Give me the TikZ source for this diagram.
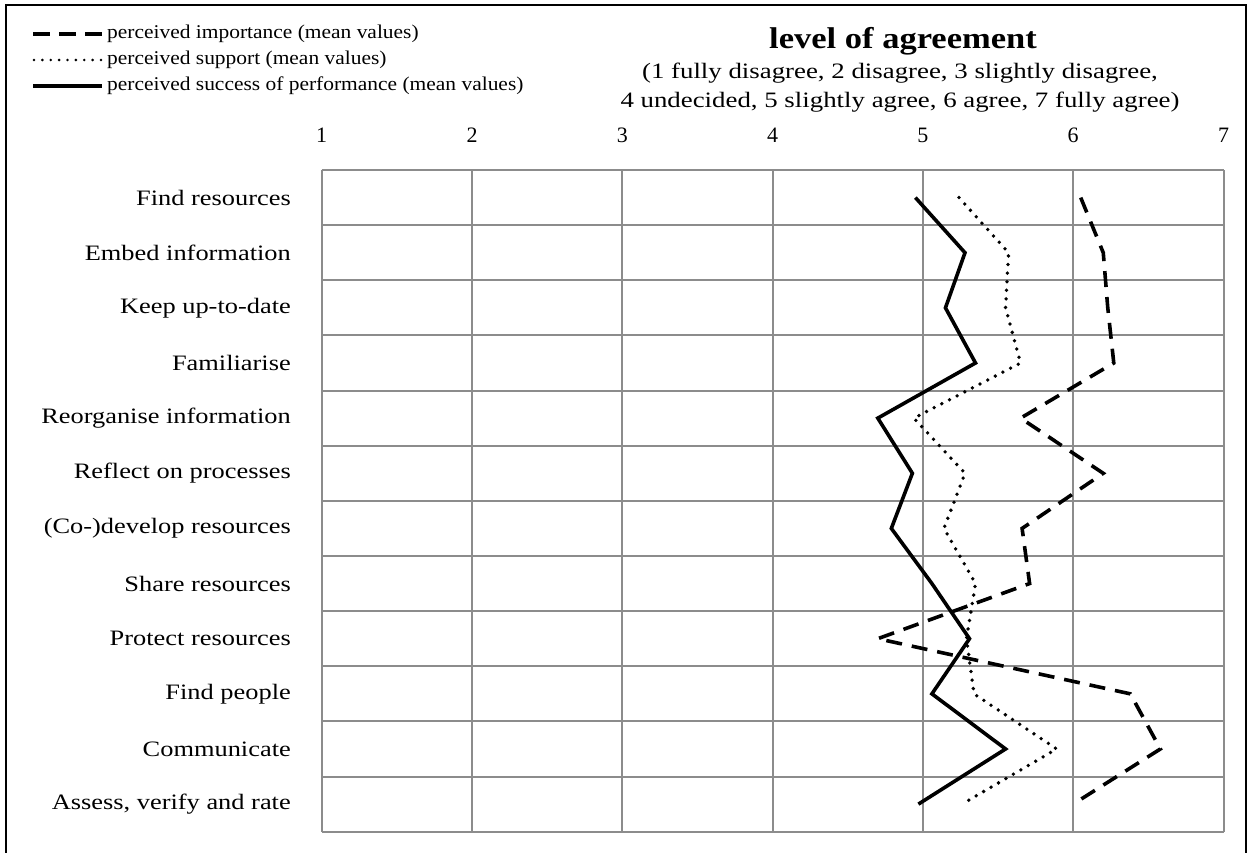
\documentclass[tikz,border=0pt]{standalone}
\usepackage{fontspec}
\setmainfont{Liberation Serif}
\newfontfamily\legendfnt{Liberation Serif}[FakeStretch=1.1]
\newfontfamily\headfnt{Liberation Serif}[FakeStretch=1.15]
\newfontfamily\scalefnt{Liberation Serif}[FakeStretch=1.22]
\newfontfamily\rowfnt{Liberation Serif}[FakeStretch=1.2]
\definecolor{gridgray}{HTML}{8C8C8C}

\begin{document}
\begin{tikzpicture}[x=1pt,y=-1pt,
  frame/.style={line width=2.6pt, line cap=rect},
  grid line/.style={draw=gridgray, line width=2pt},
  importance/.style={line width=3.6pt, dash pattern=on 16pt off 10pt},
  support/.style={line width=3.8pt, dash pattern=on 0pt off 8.6pt, line cap=round},
  success/.style={line width=3.6pt},
  legend text/.style={anchor=west, inner sep=0pt, font=\legendfnt\fontsize{19.5}{22}\selectfont},
  head text/.style={inner sep=0pt, font=\headfnt\bfseries\fontsize{30}{34}\selectfont},
  scale text/.style={inner sep=0pt, align=center, font=\scalefnt\fontsize{22}{29}\selectfont},
  tick text/.style={inner sep=0pt, font=\fontsize{22}{24}\selectfont},
  row text/.style={anchor=east, inner sep=0pt, font=\rowfnt\fontsize{22}{24}\selectfont}]

\useasboundingbox (0,0) rectangle (1251,852);
\fill[white] (0,0) rectangle (1251,852);

% outer frame, open at the bottom
\draw[frame] (6,852) -- (6,5) -- (1246,5) -- (1246,852);

% legend
\coordinate (impA) at (33,34);  \coordinate (impB) at (102,34);
\coordinate (supA) at (34,60);  \coordinate (supB) at (101,60);
\coordinate (sucA) at (33,86);  \coordinate (sucB) at (102,86);
\draw[line width=3.6pt, dash pattern=on 17pt off 9pt] (impA) -- (impB);
\draw[line width=2.8pt, dash pattern=on 0pt off 8.375pt, line cap=round] (supA) -- (supB);
\draw[line width=3.6pt] (sucA) -- (sucB);
\node[legend text] (legImp) at (107,34) {perceived importance (mean values)};
\node[legend text] (legSup) at (107,60) {perceived support (mean values)};
\node[legend text] (legSuc) at (107,86) {perceived success of performance (mean values)};

% heading and scale description
\node[head text] (head) at (903,41) {level of agreement};
\node[scale text] (scaledesc) at (900,88) {(1 fully disagree, 2 disagree, 3 slightly disagree,\\4 undecided, 5 slightly agree, 6 agree, 7 fully agree)};

% axis values
\foreach \v in {1,...,7}
  \node[tick text] (tick\v) at ({171.4+150.3*\v},135) {\v};

% row labels
\foreach \lab [count=\i] in {Find resources, Embed information, Keep up-to-date,
    Familiarise, Reorganise information, Reflect on processes,
    (Co-)develop resources, Share resources, Protect resources,
    Find people, Communicate, {Assess, verify and rate}}
  \node[row text] (row\i) at (291,{142.43+55.14*\i}) {\lab};

% chart area: x = level of agreement, y = row index
\begin{scope}[xshift=171.4pt, yshift=-142.43pt, x=150.3pt, y=-55.14pt]
  \foreach \v in {1,...,7}
    \draw[grid line] (\v,0.5) -- (\v,12.5);
  \foreach \r in {0,...,12}
    \draw[grid line] (1,{\r+0.5}) -- (7,{\r+0.5});

  \draw[importance] plot coordinates {(6.05,1) (6.20,2) (6.23,3) (6.27,4)
    (5.65,5) (6.20,6) (5.66,7) (5.71,8) (4.70,9) (6.38,10) (6.58,11) (6.00,12)};
  \draw[support] plot coordinates {(5.24,1) (5.57,2) (5.55,3) (5.65,4)
    (4.94,5) (5.28,6) (5.14,7) (5.35,8) (5.29,9) (5.34,10) (5.89,11) (5.26,12)};
  \draw[success] plot coordinates {(4.95,1) (5.28,2) (5.15,3) (5.35,4)
    (4.70,5) (4.93,6) (4.79,7) (5.06,8) (5.31,9) (5.06,10) (5.55,11) (4.97,12)};
\end{scope}
\end{tikzpicture}
\end{document}
